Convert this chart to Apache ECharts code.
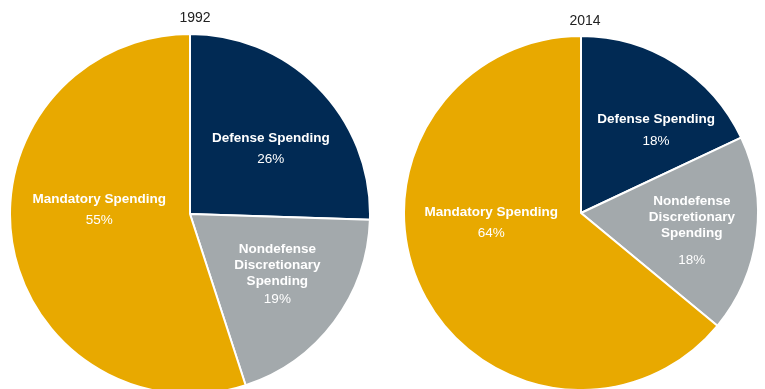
<!DOCTYPE html>
<html><head><meta charset="utf-8">
<script src="https://cdn.jsdelivr.net/npm/echarts@6/dist/echarts.min.js"></script>
<style>html,body{margin:0;padding:0;background:#fff}#c{width:765px;height:389px}</style>
</head><body><div id="c"></div>
<script>
const categories = ['Defense Spending', 'Nondefense\nDiscretionary\nSpending', 'Mandatory Spending'];
const years = ['1992', '2014'];
// slice shares as drawn in the picture
const values1992 = [25.5, 19.5, 55];
const values2014 = [18, 18, 64];
// percentage labels as printed in the picture
const labels1992 = ['26%', '19%', '55%'];
const labels2014 = ['18%', '18%', '64%'];

const colors = ['#012a54', '#a3a9ac', '#e8a900'];
const FONT = '"Liberation Sans", Arial, Helvetica, sans-serif';
// label offsets and gap before percentage (style only)
const offs = [
  [[14, -3], [13, 3], [1, -21]],
  [[26, -8], [20, 1], [-7, -32]]
];
const gaps = [[10, 4, 10], [12, 22, 10]];

function mkSeries(idx, vals, labs, center, radius) {
  return {
    type: 'pie',
    center: center,
    radius: radius,
    startAngle: 90,
    clockwise: true,
    animation: false,
    silent: true,
    data: categories.map((c, i) => ({
      name: c, value: vals[i],
      itemStyle: { color: colors[i] },
      label: {
        rich: {
          n: { color: '#fff', fontFamily: FONT, fontWeight: 'bold', fontSize: 13.5, lineHeight: 16 },
          p: { color: '#fff', fontFamily: FONT, fontSize: 13.5, lineHeight: 16, padding: [gaps[idx][i], 0, 0, 0] }
        }
      }
    })),
    itemStyle: { borderColor: '#fff', borderWidth: 2 },
    label: {
      show: true,
      position: 'inside',
      formatter: p => '{n|' + p.name.split('\n').join('}\n{n|') + '}\n{p|' + labs[p.dataIndex] + '}'
    },
    labelLine: { show: false },
    labelLayout: p => ({ dx: offs[idx][p.dataIndex][0], dy: offs[idx][p.dataIndex][1] })
  };
}

const chart = echarts.init(document.getElementById('c'));
chart.setOption({
  backgroundColor: '#fff',
  title: [
    { text: years[0], left: 190, top: 6, textAlign: 'center', textStyle: { fontFamily: FONT, fontSize: 14, fontWeight: 'normal', color: '#222' } },
    { text: years[1], left: 580, top: 9, textAlign: 'center', textStyle: { fontFamily: FONT, fontSize: 14, fontWeight: 'normal', color: '#222' } }
  ],
  series: [
    mkSeries(0, values1992, labels1992, [190, 214], 180),
    mkSeries(1, values2014, labels2014, [581, 213], 177)
  ]
});
</script></body></html>
